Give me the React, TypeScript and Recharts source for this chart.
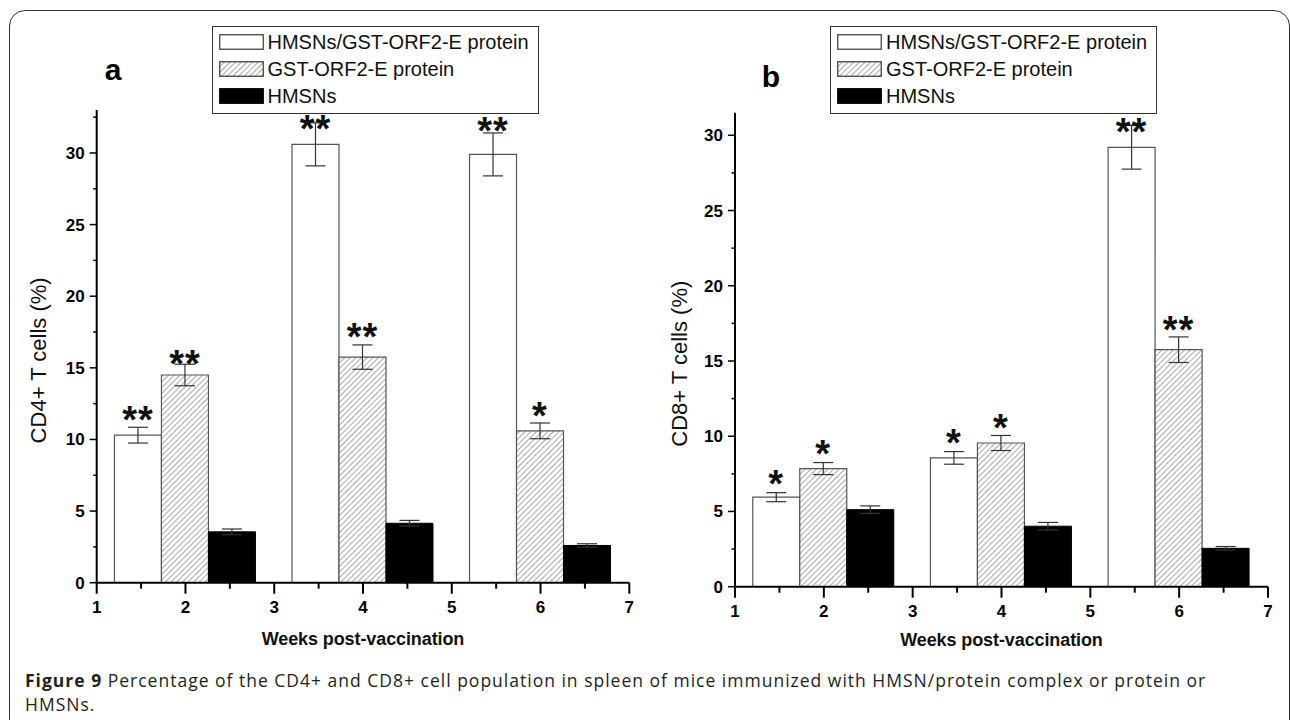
import React from "react";
import { BarChart, Bar, XAxis, YAxis, ErrorBar, LabelList, Label } from "recharts";

// weeks post-vaccination (x positions of the bar groups)
const weeks = [2, 4, 6];
const seriesNames = ["HMSNs/GST-ORF2-E protein", "GST-ORF2-E protein", "HMSNs"];

// panel a: CD4+ T cells (%)
const cd4Complex = [10.3, 30.6, 29.9];
const cd4ComplexErr = [0.55, 1.5, 1.5];
const cd4ComplexSig = ["**", "**", "**"];
const cd4ComplexStarAt = [12.0, 32.3, 32.2];
const cd4Protein = [14.5, 15.75, 10.6];
const cd4ProteinErr = [0.75, 0.85, 0.55];
const cd4ProteinSig = ["**", "**", "*"];
const cd4ProteinStarAt = [15.9, 17.8, 12.3];
const cd4Hmsn = [3.55, 4.15, 2.6];
const cd4HmsnErr = [0.2, 0.2, 0.12];

// panel b: CD8+ T cells (%)
const cd8Complex = [5.95, 8.56, 29.2];
const cd8ComplexErr = [0.3, 0.42, 1.45];
const cd8ComplexSig = ["*", "*", "**"];
const cd8ComplexStarAt = [7.42, 10.19, 30.85];
const cd8Protein = [7.85, 9.55, 15.75];
const cd8ProteinErr = [0.4, 0.5, 0.85];
const cd8ProteinSig = ["*", "*", "**"];
const cd8ProteinStarAt = [9.42, 11.16, 17.67];
const cd8Hmsn = [5.12, 4.02, 2.55];
const cd8HmsnErr = [0.25, 0.25, 0.12];

// axis ticks (majors are labelled, the rest are minor)
const xTicks = [1, 1.5, 2, 2.5, 3, 3.5, 4, 4.5, 5, 5.5, 6, 6.5, 7];
const yTicksA = [0, 2.5, 5, 7.5, 10, 12.5, 15, 17.5, 20, 22.5, 25, 27.5, 30, 32.5];
const yTicksB = [0, 2.5, 5, 7.5, 10, 12.5, 15, 17.5, 20, 22.5, 25, 27.5, 30];

const FONT = "'Liberation Sans', Arial, sans-serif";

const buildRows = (
  a: number[], ae: number[], b: number[], be: number[], c: number[], ce: number[]
) =>
  weeks.map((w, i) => ({
    week: w,
    complex: a[i],
    complexErr: ae[i],
    protein: b[i],
    proteinErr: be[i],
    hmsn: c[i],
    hmsnErr: ce[i],
  }));

const dataA = buildRows(cd4Complex, cd4ComplexErr, cd4Protein, cd4ProteinErr, cd4Hmsn, cd4HmsnErr);
const dataB = buildRows(cd8Complex, cd8ComplexErr, cd8Protein, cd8ProteinErr, cd8Hmsn, cd8HmsnErr);

const XTick = (props: any) => {
  const { x, y, payload } = props;
  const v = payload.value;
  const major = Number.isInteger(v);
  return (
    <g>
      <line x1={x} x2={x} y1={y} y2={y + (major ? 11 : 6)} stroke="#000" strokeWidth={2} />
      {major && (
        <text x={x} y={y + 30} textAnchor="middle" fontSize={17} fontWeight={700} fontFamily={FONT} fill="#000">
          {v}
        </text>
      )}
    </g>
  );
};

const YTick = (props: any) => {
  const { x, y, payload } = props;
  const v = payload.value;
  const major = v % 5 === 0;
  return (
    <g>
      <line x1={x} x2={x - (major ? 7 : 3.5)} y1={y} y2={y} stroke="#000" strokeWidth={1.5} />
      {major && (
        <text x={x - 12} y={y + 6} textAnchor="end" fontSize={17} fontWeight={700} fontFamily={FONT} fill="#000">
          {v}
        </text>
      )}
    </g>
  );
};

// significance stars above a bar; positioned from the bar geometry recharts hands us
const stars = (sig: string[], vals: number[], at: number[]) => (p: any) => {
  const i = p.index;
  if (i == null || !sig[i]) return null;
  const vb = p.viewBox || {};
  const x = vb.x ?? p.x;
  const y = vb.y ?? p.y;
  const w = vb.width ?? p.width;
  const h = vb.height ?? p.height;
  const perUnit = h / vals[i];
  const cy = y - (at[i] - vals[i]) * perUnit;
  const fs = 38;
  return (
    <text
      x={x + w / 2}
      y={cy + fs * 0.59}
      textAnchor="middle"
      fontSize={fs}
      fontWeight="bold"
      fontFamily={FONT}
      letterSpacing={1}
      fill="#111"
    >
      {sig[i]}
    </text>
  );
};

const yTitle = (text: string, shift: number) => (p: any) => {
  const vb = p.viewBox;
  const cx = vb.x + vb.width - shift;
  const cy = vb.y + vb.height / 2 + 14;
  return (
    <text
      x={cx}
      y={cy}
      transform={`rotate(-90 ${cx} ${cy})`}
      textAnchor="middle"
      dominantBaseline="central"
      fontSize={22}
      fontFamily={FONT}
      fill="#111"
    >
      {text}
    </text>
  );
};

const xTitle = (drop: number) => (p: any) => {
  const vb = p.viewBox;
  return (
    <text
      x={vb.x + vb.width / 2}
      y={vb.y + drop}
      textAnchor="middle"
      dominantBaseline="central"
      fontSize={18}
      fontWeight="bold"
      fontFamily={FONT}
      letterSpacing={-0.1}
      fill="#111"
    >
      Weeks post-vaccination
    </text>
  );
};

const Hatch = ({ id }: { id: string }) => (
  <pattern id={id} patternUnits="userSpaceOnUse" width={4} height={4} patternTransform="rotate(45)">
    <rect width={4} height={4} fill="#fff" />
    <line x1={0} y1={0} x2={0} y2={4} stroke="#555" strokeWidth={1} />
  </pattern>
);

const Panel = (props: {
  id: string;
  data: any[];
  yMax: number;
  yTicks: number[];
  yLabel: string;
  width: number;
  margin: any;
  labelShift: number;
  titleDrop: number;
  sig: { c: string[]; cAt: number[]; cv: number[]; p: string[]; pAt: number[]; pv: number[] };
}) => {
  const { id, data, yMax, yTicks, yLabel, width, margin, labelShift, titleDrop, sig } = props;
  return (
    <BarChart width={width} height={720} data={data} margin={margin} barCategoryGap="10%" barGap={0}>
      <defs>
        <Hatch id={id} />
      </defs>
      <XAxis
        dataKey="week"
        type="number"
        domain={[1, 7]}
        ticks={xTicks}
        interval={0}
        height={30}
        tickSize={0}
        tickMargin={0}
        tickLine={false}
        tick={<XTick />}
        axisLine={{ stroke: "#000", strokeWidth: 2 }}
        allowDataOverflow
      >
        <Label content={xTitle(titleDrop)} />
      </XAxis>
      <YAxis
        type="number"
        domain={[0, yMax]}
        ticks={yTicks}
        interval={0}
        width={63}
        tickSize={0}
        tickMargin={0}
        tickLine={false}
        tick={<YTick />}
        axisLine={{ stroke: "#000", strokeWidth: 2 }}
        allowDataOverflow
      >
        <Label content={yTitle(yLabel, labelShift)} />
      </YAxis>
      <Bar dataKey="complex" fill="#fff" stroke="#555" strokeWidth={1.2} isAnimationActive={false}>
        <ErrorBar dataKey="complexErr" width={10} stroke="#333" strokeWidth={1.2} direction="y" />
        <LabelList dataKey="complex" content={stars(sig.c, sig.cv, sig.cAt)} />
      </Bar>
      <Bar dataKey="protein" fill={`url(#${id})`} stroke="#555" strokeWidth={1.2} isAnimationActive={false}>
        <ErrorBar dataKey="proteinErr" width={10} stroke="#333" strokeWidth={1.2} direction="y" />
        <LabelList dataKey="protein" content={stars(sig.p, sig.pv, sig.pAt)} />
      </Bar>
      <Bar dataKey="hmsn" fill="#000" stroke="#000" strokeWidth={1} isAnimationActive={false}>
        <ErrorBar dataKey="hmsnErr" width={10} stroke="#333" strokeWidth={1.2} direction="y" />
      </Bar>
    </BarChart>
  );
};

const LegendBox = ({ left, id }: { left: number; id: string }) => (
  <div
    style={{
      position: "absolute",
      left,
      top: 26,
      width: 327,
      height: 88,
      boxSizing: "border-box",
      border: "1.5px solid #333",
      background: "#fff",
      fontFamily: FONT,
      fontSize: 20,
      color: "#111",
    }}
  >
    {seriesNames.map((name, i) => (
      <div
        key={name}
        style={{ position: "absolute", left: 6, top: 6 + i * 27, height: 18, display: "flex", alignItems: "center", whiteSpace: "nowrap" }}
      >
        <svg width={45} height={16} style={{ display: "block" }}>
          <defs>
            <Hatch id={id} />
          </defs>
          <rect
            x={0.75}
            y={0.75}
            width={43.5}
            height={14.5}
            fill={i === 0 ? "#fff" : i === 1 ? `url(#${id})` : "#000"}
            stroke={i === 2 ? "#000" : "#444"}
            strokeWidth={1.3}
          />
        </svg>
        <span style={{ marginLeft: 4, lineHeight: "18px" }}>{name}</span>
      </div>
    ))}
  </div>
);

const App = () => (
  <div style={{ position: "fixed", left: 0, top: 0, width: 1290, height: 720, overflow: "hidden", background: "#fff" }}>
    <div
      style={{
        position: "absolute",
        left: 9,
        top: 10,
        width: 1281,
        height: 800,
        boxSizing: "border-box",
        border: "1.5px solid #333",
        borderRadius: 16,
      }}
    />
    <div style={{ position: "absolute", left: 0, top: 0 }}>
      <Panel
        id="hatchA"
        data={dataA}
        yMax={33}
        yTicks={yTicksA}
        yLabel="CD4+ T cells (%)"
        width={660}
        margin={{ top: 110, right: 30.7, bottom: 107.3, left: 33.7 }}
        labelShift={58}
        titleDrop={56}
        sig={{ c: cd4ComplexSig, cAt: cd4ComplexStarAt, cv: cd4Complex, p: cd4ProteinSig, pAt: cd4ProteinStarAt, pv: cd4Protein }}
      />
    </div>
    <div style={{ position: "absolute", left: 640, top: 0 }}>
      <Panel
        id="hatchB"
        data={dataB}
        yMax={31.5}
        yTicks={yTicksB}
        yLabel="CD8+ T cells (%)"
        width={650}
        margin={{ top: 112.7, right: 22, bottom: 103.3, left: 32 }}
        labelShift={55}
        titleDrop={53}
        sig={{ c: cd8ComplexSig, cAt: cd8ComplexStarAt, cv: cd8Complex, p: cd8ProteinSig, pAt: cd8ProteinStarAt, pv: cd8Protein }}
      />
    </div>
    <LegendBox left={211.5} id="hatchLegA" />
    <LegendBox left={830} id="hatchLegB" />
    <div style={{ position: "absolute", left: 113, top: 70, transform: "translate(-50%, -50%)", fontFamily: FONT, fontWeight: "bold", fontSize: 30 }}>
      a
    </div>
    <div style={{ position: "absolute", left: 771, top: 77, transform: "translate(-50%, -50%)", fontFamily: FONT, fontWeight: "bold", fontSize: 30 }}>
      b
    </div>
    <div
      style={{
        position: "absolute",
        left: 25,
        top: 668,
        fontFamily: "'Open Sans', 'Noto Sans', sans-serif",
        fontSize: 17.5,
        letterSpacing: 1,
        lineHeight: "24px",
        color: "#231f20",
        whiteSpace: "nowrap",
      }}
    >
      <b>Figure 9</b> Percentage of the CD4+ and CD8+ cell population in spleen of mice immunized with HMSN/protein complex or protein or
      <br />
      HMSNs.
    </div>
  </div>
);

export default App;
